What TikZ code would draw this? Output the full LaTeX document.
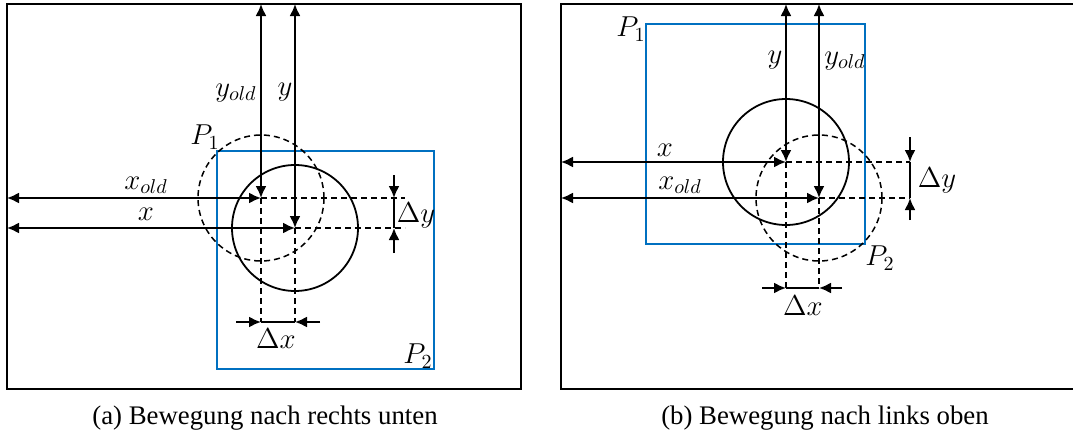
\documentclass[tikz,border=0pt]{standalone}
\usepackage{fontspec}
\setmainfont{Liberation Serif}
\usepackage{tikz}
\usetikzlibrary{arrows.meta}
\definecolor{moveblue}{RGB}{0,112,192}

\begin{document}
\begin{tikzpicture}[
		x=0.5pt, y=-0.5pt,
		frame/.style={draw=black, line width=1.1pt},
		area/.style={draw=moveblue, line width=0.85pt},
		disk/.style={draw=black, line width=0.9pt},
		olddisk/.style={draw=black, line width=0.75pt, dash pattern=on 3pt off 2pt},
		guide/.style={draw=black, line width=0.75pt, dash pattern=on 3pt off 2pt},
		dist/.style={{Latex[length=6pt, width=5.5pt]}-{Latex[length=6pt, width=5.5pt]}, line width=0.95pt},
		tip/.style={-{Latex[length=6pt, width=5.5pt]}, line width=0.95pt},
		bar/.style={line width=0.95pt},
		lbl/.style={inner sep=0pt, font=\fontsize{14}{16}\selectfont},
		caption/.style={inner sep=0pt, font=\fontsize{13.4}{16}\selectfont}
	]
		\clip (0,0) rectangle (1073,440);

		% (a) Bewegung nach rechts unten
		\draw[frame] (7,4) rectangle (521,389);
		\draw[area] (217,151) rectangle (434,369);
		\coordinate (oldA) at (261,198);
		\coordinate (newA) at (295,228);
		\draw[olddisk] (oldA) circle[radius=31.5pt];
		\draw[disk] (newA) circle[radius=31.5pt];
		\coordinate (topOldA) at (261,4);
		\coordinate (topNewA) at (295,4);
		\coordinate (leftOldA) at (7,198);
		\coordinate (leftNewA) at (7,228);
		\draw[guide] (oldA) -- (405,198) coordinate (rOldA);
		\draw[guide] (newA) -- (405,228) coordinate (rNewA);
		\draw[guide] (oldA) -- (261,322) coordinate (dOldA);
		\draw[guide] (newA) -- (295,322) coordinate (dNewA);
		\draw[dist] (topOldA) -- (oldA);
		\draw[dist] (topNewA) -- (newA);
		\draw[dist] (leftOldA) -- (oldA);
		\draw[dist] (leftNewA) -- (newA);
		% Delta y
		\coordinate (dyTopA) at (394,175);
		\coordinate (dy1A) at (394,198);
		\coordinate (dy2A) at (394,228);
		\coordinate (dyBotA) at (394,253);
		\draw[tip] (dyTopA) -- (dy1A);
		\draw[bar] (dy1A) -- (dy2A);
		\draw[tip] (dyBotA) -- (dy2A);
		% Delta x
		\coordinate (dxLeftA) at (236,322);
		\coordinate (dxRightA) at (320,322);
		\draw[tip] (dxLeftA) -- (dOldA);
		\draw[bar] (dOldA) -- (dNewA);
		\draw[tip] (dxRightA) -- (dNewA);
		\node[lbl] (yoldA) at (236,93) {$y_{old}$};
		\node[lbl] (yA) at (285,92) {$y$};
		\node[lbl] (xoldA) at (146,185) {$x_{old}$};
		\node[lbl] (xA) at (146,214) {$x$};
		\node[lbl] (DyA) at (416,215) {$\Delta y$};
		\node[lbl] (DxA) at (276,339) {$\Delta x$};
		\node[lbl] (P1A) at (205,137) {$P_1$};
		\node[lbl] (P2A) at (418,356) {$P_2$};
		\node[caption] (capA) at (265,418) {(a) Bewegung nach rechts unten};

		% (b) Bewegung nach links oben
		\draw[frame] (561,4) rectangle (1090,389);
		\draw[area] (646,24) rectangle (865,244);
		\coordinate (newB) at (786,162);
		\coordinate (oldB) at (819,198);
		\draw[disk] (newB) circle[radius=31.5pt];
		\draw[olddisk] (oldB) circle[radius=31.5pt];
		\coordinate (topNewB) at (786,4);
		\coordinate (topOldB) at (819,4);
		\coordinate (leftNewB) at (561,162);
		\coordinate (leftOldB) at (561,198);
		\draw[guide] (newB) -- (910,162) coordinate (rNewB);
		\draw[guide] (oldB) -- (910,198) coordinate (rOldB);
		\draw[guide] (newB) -- (786,288) coordinate (dNewB);
		\draw[guide] (oldB) -- (819,288) coordinate (dOldB);
		\draw[dist] (topNewB) -- (newB);
		\draw[dist] (topOldB) -- (oldB);
		\draw[dist] (leftNewB) -- (newB);
		\draw[dist] (leftOldB) -- (oldB);
		% Delta y
		\coordinate (dyTopB) at (910,137);
		\coordinate (dyBotB) at (910,220);
		\draw[tip] (dyTopB) -- (rNewB);
		\draw[bar] (rNewB) -- (rOldB);
		\draw[tip] (dyBotB) -- (rOldB);
		% Delta x
		\coordinate (dxLeftB) at (762,288);
		\coordinate (dxRightB) at (842,288);
		\draw[tip] (dxLeftB) -- (dNewB);
		\draw[bar] (dNewB) -- (dOldB);
		\draw[tip] (dxRightB) -- (dOldB);
		\node[lbl] (yB) at (775,60) {$y$};
		\node[lbl] (yoldB) at (845,61) {$y_{old}$};
		\node[lbl] (xB) at (665,150) {$x$};
		\node[lbl] (xoldB) at (680,185) {$x_{old}$};
		\node[lbl] (DyB) at (937,180) {$\Delta y$};
		\node[lbl] (DxB) at (803,306) {$\Delta x$};
		\node[lbl] (P1B) at (631,29) {$P_1$};
		\node[lbl] (P2B) at (880,258) {$P_2$};
		\node[caption] (capB) at (825,418) {(b) Bewegung nach links oben};
	\end{tikzpicture}
\end{document}
